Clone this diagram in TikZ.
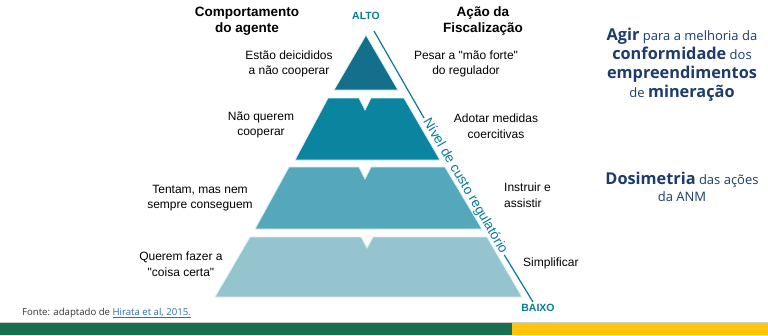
\documentclass[tikz,border=0pt]{standalone}
\usepackage{fontspec}
\setmainfont{Liberation Sans}
\newfontfamily\opensans{Open Sans}
\definecolor{camadaA}{HTML}{146F8D}
\definecolor{camadaB}{HTML}{0A849F}
\definecolor{camadaC}{HTML}{55A8BC}
\definecolor{camadaD}{HTML}{95C4CF}
\definecolor{borda}{HTML}{D8F1F6}
\definecolor{petroleo}{HTML}{0B7A99}
\definecolor{marinho}{HTML}{1D3C6C}
\definecolor{verdeANM}{HTML}{1B6E4F}
\definecolor{amareloANM}{HTML}{FFC40C}
\definecolor{linkazul}{HTML}{2F6DB3}
\newcommand\destaque[1]{{\bfseries\fontsize{16.3}{19}\selectfont #1}}
\newcommand\aspas[1]{\textquotedbl#1\textquotedbl}
\begin{document}
\begin{tikzpicture}[x=1pt,y=-1pt,
		txt/.style={align=center, font=\fontsize{12}{15.5}\selectfont, inner sep=0pt},
		hdr/.style={align=center, font=\bfseries\fontsize{13.5}{16}\selectfont, inner sep=0pt},
		nivel/.style={text=petroleo, font=\bfseries\fontsize{10.5}{12}\selectfont, inner sep=0pt},
		camada/.style={draw=borda, line width=0.8pt},
		meta/.style={text=marinho, align=center, inner sep=0pt}]
			\useasboundingbox[fill=white] (0,0) rectangle (768,335);
			
			% faixa
			\fill[gray!40] (0,322) rectangle (768,323.5);
			\fill[verdeANM] (0,323) rectangle (512,335);
			\fill[amareloANM] (512,323) rectangle (768,335);
			
			% piramide
			\draw[camada, fill=camadaA] (366,35) -- (398,90) -- (334,90) -- cycle;
			\draw[camada, fill=camadaB] (328,98) -- (359,98) -- (365,110) -- (371,98) -- (404,98) -- (440,160) -- (295,160) -- cycle;
			\draw[camada, fill=camadaC] (289,167) -- (359,167) -- (365,179) -- (371,167) -- (445,167) -- (482,229) -- (255,229) -- cycle;
			\draw[camada, fill=camadaD] (250,237) -- (361,237) -- (367,248) -- (373,237) -- (487,237) -- (522,297) -- (215,297) -- cycle;
			
			% nivel de custo
			\node[nivel] (alto) at (366,16) {ALTO};
			\node[nivel] (baixo) at (538,308) {BAIXO};
			\coordinate (topo) at (374,31);
			\coordinate (base) at (533,302);
			\path (topo) -- (base) node[pos=0.572, sloped, text=petroleo, inner sep=2pt,
				font=\fontsize{13.6}{15}\selectfont] (custo) {Nível de custo regulatório};
			\draw[petroleo, line width=1.2pt] (topo) -- (custo.mid west);
			\draw[petroleo, line width=1.2pt] (custo.mid east) -- (base);
			
			% titulos
			\node[hdr] (agente) at (247,21) {Comportamento\\do agente};
			\node[hdr] (acao) at (483,21) {Ação da\\Fiscalização};
			
			% comportamento
			\node[txt] (ag1) at (289,64) {Estão deicididos\\a não cooperar};
			\node[txt] (ag2) at (261,125) {Não querem\\cooperar};
			\node[txt] (ag3) at (200,198) {Tentam, mas nem\\sempre conseguem};
			\node[txt] (ag4) at (181,264) {Querem fazer a\\\aspas{coisa certa}};
			
			% acoes
			\node[txt] (ac1) at (466,64) {Pesar a \aspas{mão forte}\\do regulador};
			\node[txt] (ac2) at (496,126) {Adotar medidas\\coercitivas};
			\node[txt, align=left, anchor=west] (ac3) at (504,195) {Instruir e\\assistir};
			\node[txt, anchor=west] (ac4) at (523,263) {Simplificar};
			
			% lado direito
			\node[meta, font=\opensans\fontsize{13}{19}\selectfont] (agir) at (682,64.5)
				{\destaque{Agir} para a melhoria da\\\destaque{conformidade} dos\\\destaque{empreendimentos}\\de \destaque{mineração}};
			\node[meta, font=\opensans\fontsize{13}{17.5}\selectfont] (dosim) at (682,187)
				{\destaque{Dosimetria} das ações\\da ANM};
			
			% fonte
			\node[anchor=west, inner sep=0pt, text=black!80, font=\opensans\fontsize{9.6}{11}\selectfont] (fonte) at (22,313)
				{Fonte: adaptado de \textcolor{linkazul}{\underline{Hirata et al, 2015.}}};
			
\end{tikzpicture}
\end{document}
